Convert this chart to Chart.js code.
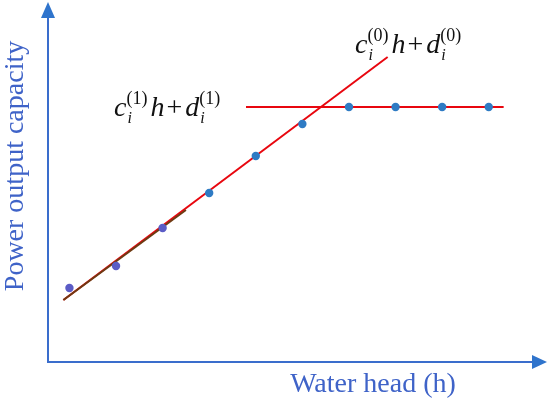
<!DOCTYPE html>
<html>
<head>
<meta charset="utf-8">
<script src="https://cdn.jsdelivr.net/npm/chart.js@4.4.0/dist/chart.umd.min.js"></script>
<style>
  html, body { margin: 0; padding: 0; background: #fff; }
  #wrap { width: 550px; height: 413px; }
</style>
</head>
<body>
<div id="wrap"><canvas id="chart"></canvas></div>
<script>
// measured points (water head index vs. output)
const headX = [1, 2, 3, 4, 5, 6, 7, 8, 9, 10];
const powerY = [2.96, 3.84, 5.36, 6.76, 8.24, 9.52, 10.2, 10.2, 10.2, 10.2];
const pointColors = ['#5b5cc6', '#5b5cc6', '#5b5cc6', '#2e7bc4', '#2e7bc4', '#2e7bc4', '#2e7bc4', '#2e7bc4', '#2e7bc4', '#2e7bc4'];

// fitted lines: c(0)h + d(0) (rising) and c(1)h + d(1) (flat)
const riseX = [0.87, 7.83];
const riseY = [2.48, 12.2];
const riseLowX = [0.87, 3.5];
const riseLowY = [2.48, 6.08];
const flatX = [4.79, 10.32];
const flatY = [10.2, 10.2];

const axisColor = '#3a6dcc';
const titleColor = '#3f63c8';
const serif = '"Liberation Serif", "Times New Roman", serif';

const toPts = (xs, ys) => xs.map((x, i) => ({ x: x, y: ys[i] }));

const decorations = {
  id: 'decorations',
  afterDraw(chart) {
    const ctx = chart.ctx;
    const area = chart.chartArea;
    ctx.save();

    // arrow heads
    ctx.fillStyle = '#2f74cc';
    ctx.beginPath();
    ctx.moveTo(area.left, 2);
    ctx.lineTo(area.left - 7, area.top + 1);
    ctx.lineTo(area.left + 7, area.top + 1);
    ctx.closePath();
    ctx.fill();
    ctx.beginPath();
    ctx.moveTo(547, area.bottom);
    ctx.lineTo(area.right - 1, area.bottom - 7);
    ctx.lineTo(area.right - 1, area.bottom + 7);
    ctx.closePath();
    ctx.fill();

    // axis titles
    ctx.fillStyle = titleColor;
    ctx.font = '28px ' + serif;
    ctx.textAlign = 'center';
    ctx.textBaseline = 'middle';
    ctx.fillText('Water head (h)', 373, 385);
    ctx.translate(16, 166);
    ctx.rotate(-Math.PI / 2);
    ctx.fillText('Power output capacity', 0, 0);
    ctx.setTransform(1, 0, 0, 1, 0, 0);

    // formulas
    drawFormula(ctx, 355, 53, '(0)');
    drawFormula(ctx, 114, 116, '(1)');
    ctx.restore();
  }
};

function drawFormula(ctx, x, base, sup) {
  const big = 'italic 28px ' + serif;
  const small = 'italic 16px ' + serif;
  const supFont = '18px ' + serif;
  const roman = '28px ' + serif;
  ctx.fillStyle = '#111';
  ctx.textAlign = 'left';
  ctx.textBaseline = 'alphabetic';

  const part = (ch) => {
    ctx.font = big;
    ctx.fillText(ch, x, base);
    x += ctx.measureText(ch).width;
    ctx.font = small;
    ctx.fillText('i', x + 1, base + 7);
    ctx.font = supFont;
    ctx.fillText(sup, x, base - 12);
    x += ctx.measureText(sup).width + 3;
  };

  part('c');
  ctx.font = big;
  ctx.fillText('h', x, base);
  x += ctx.measureText('h').width + 2;
  ctx.font = roman;
  ctx.fillText('+', x, base);
  x += ctx.measureText('+').width + 3;
  part('d');
}

const ctx = document.getElementById('chart').getContext('2d');
new Chart(ctx, {
  type: 'scatter',
  data: {
    datasets: [
      {
        label: 'measured',
        data: toPts(headX, powerY),
        backgroundColor: pointColors,
        borderColor: pointColors,
        pointRadius: 4.2,
        pointBorderWidth: 0,
        order: 0
      },
      {
        label: 'rise low',
        data: toPts(riseLowX, riseLowY),
        showLine: true,
        borderColor: '#6e3a12',
        borderWidth: 2,
        pointRadius: 0,
        order: 1
      },
      {
        label: 'rise',
        data: toPts(riseX, riseY),
        showLine: true,
        borderColor: '#e8070f',
        borderWidth: 2,
        pointRadius: 0,
        order: 2
      },
      {
        label: 'flat',
        data: toPts(flatX, flatY),
        showLine: true,
        borderColor: '#e8070f',
        borderWidth: 2,
        pointRadius: 0,
        order: 2
      }
    ]
  },
  options: {
    responsive: true,
    maintainAspectRatio: false,
    animation: false,
    layout: { padding: { left: 40, right: 17, top: 17, bottom: 43 } },
    plugins: {
      legend: { display: false },
      tooltip: { enabled: false }
    },
    scales: {
      x: {
        type: 'linear',
        min: 0.54,
        max: 10.95,
        grid: { display: false },
        ticks: { display: false },
        border: { color: axisColor, width: 2 }
      },
      y: {
        type: 'linear',
        min: 0,
        max: 13.8,
        grid: { display: false },
        ticks: { display: false },
        border: { color: axisColor, width: 2 }
      }
    }
  },
  plugins: [decorations]
});
</script>
</body>
</html>
